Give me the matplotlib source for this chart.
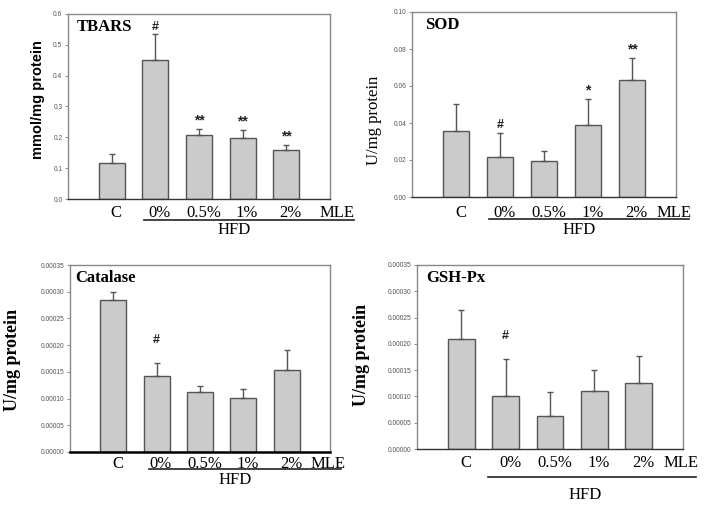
import matplotlib
matplotlib.use("Agg")
import matplotlib.pyplot as plt
import matplotlib.transforms as mtransforms

groups = ["C", "0%", "0.5%", "1%", "2%"]

tbars_mean = [0.117, 0.451, 0.207, 0.199, 0.160]
tbars_err = [0.028, 0.084, 0.019, 0.026, 0.016]
tbars_marks = ["", "#", "**", "**", "**"]

sod_mean = [0.0357, 0.0215, 0.0197, 0.0388, 0.0632]
sod_err = [0.0144, 0.0133, 0.0051, 0.0142, 0.0120]
sod_marks = ["", "#", "", "*", "**"]

cat_mean = [0.000284, 0.0001425, 0.0001125, 0.000102, 0.000153]
cat_err = [0.000016, 0.0000245, 0.0000105, 0.000016, 0.000038]
cat_marks = ["", "#", "", "", ""]

gsh_mean = [0.000210, 0.0001015, 0.0000634, 0.000110, 0.000126]
gsh_err = [0.000054, 0.0000695, 0.0000456, 0.000040, 0.000051]
gsh_marks = ["", "#", "", "", ""]

W, H = 704, 507
fig = plt.figure(figsize=(W / 100, H / 100), dpi=100)
fig.patch.set_facecolor("white")

SERIF = ["Liberation Serif", "DejaVu Serif"]
SANS = ["Liberation Sans", "DejaVu Sans"]


def add_ax(x0, y0, x1, y1):
    return fig.add_axes([x0 / W, 1 - y1 / H, (x1 - x0) / W, (y1 - y0) / H])


def panel(ax, mean, err, marks, ylim, yticks, fmt, title, title_x, mark_off,
          lab_y, line_y, hfd_y, line_x, mle_x, bottom_black=False):
    x = list(range(len(groups)))
    ax.bar(x, mean, width=0.6, color="#cbcbcb", edgecolor="#555555", linewidth=1.0, zorder=2)
    ax.errorbar(x, mean, yerr=[[0] * len(err), err], fmt="none", ecolor="#555555",
                elinewidth=1.0, capsize=2.5, capthick=1.0, zorder=3)
    ax.set_xlim(-1, 5)
    ax.set_ylim(*ylim)
    ax.set_yticks(yticks)
    ax.set_yticklabels([fmt.format(v) for v in yticks], fontsize=4.8, color="#555555",
                       family=SANS)
    ax.tick_params(axis="y", length=2, width=0.6, color="#777777", pad=2)
    ax.set_xticks([])
    for s in ax.spines.values():
        s.set_color("#888888")
        s.set_linewidth(1.0)
    ax.spines["bottom"].set_color("#333333")
    if bottom_black:
        ax.spines["bottom"].set_linewidth(1.8)
        ax.spines["bottom"].set_color("black")
    ax.text(title_x, 0.93, title, transform=ax.transAxes, fontsize=12, fontweight="bold",
            family=SERIF, va="center", ha="left")
    for xi, m, e, mk in zip(x, mean, err, marks):
        if mk:
            ax.annotate(mk, (xi, m + e), xytext=(0, mark_off), textcoords="offset points",
                        ha="center", va="bottom", fontsize=9 if mk == "#" else 10,
                        fontweight="bold", family=SANS, color="#222222")
    tr = mtransforms.blended_transform_factory(ax.transData, ax.transAxes)
    for xi, g in zip(x, groups):
        ax.text(xi + 0.1, lab_y, g, transform=tr, ha="center", va="center", fontsize=12,
                family=SERIF, clip_on=False)
    ax.text(mle_x, lab_y, "MLE", transform=tr, ha="left", va="center", fontsize=12,
            family=SERIF, clip_on=False)
    ax.plot(line_x, [line_y, line_y], transform=tr, color="#222222", lw=1.2, clip_on=False)
    ax.text(2.8, hfd_y, "HFD", transform=tr, ha="center", va="center", fontsize=12,
            family=SERIF, clip_on=False)


ax1 = add_ax(68, 14, 330, 199)
panel(ax1, tbars_mean, tbars_err, tbars_marks, (0, 0.6), [0, 0.1, 0.2, 0.3, 0.4, 0.5, 0.6],
      "{:.1f}", "TBARS", 0.035, 1, -0.075, -0.115, -0.165, [0.73, 5.55], 4.75)
fig.text(38 / W, 1 - 100 / H, "mmol/mg protein", rotation=90, ha="center", va="center",
         fontsize=10.5, fontweight="bold", family=SANS)

ax2 = add_ax(412, 12, 676, 197)
panel(ax2, sod_mean, sod_err, sod_marks, (0, 0.10), [0, 0.02, 0.04, 0.06, 0.08, 0.10],
      "{:.2f}", "SOD", 0.05, 1, -0.085, -0.12, -0.18, [0.75, 5.3], 4.55)
fig.text(374 / W, 1 - 120 / H, "U/mg protein", rotation=90, ha="center", va="center",
         fontsize=12, family=SERIF)

cat_ticks = [0, 0.00005, 0.0001, 0.00015, 0.0002, 0.00025, 0.0003, 0.00035]
ax3 = add_ax(70, 265, 330, 452)
panel(ax3, cat_mean, cat_err, cat_marks, (0, 0.00035), cat_ticks,
      "{:.5f}", "Catalase", 0.02, 12, -0.065, -0.09, -0.15, [0.82, 5.25], 4.55,
      bottom_black=True)
fig.text(13 / W, 1 - 360 / H, "U/mg protein", rotation=90, ha="center", va="center",
         fontsize=13, fontweight="bold", family=SERIF)

ax4 = add_ax(417, 265, 683, 449)
panel(ax4, gsh_mean, gsh_err, gsh_marks, (0, 0.00035), cat_ticks,
      "{:.5f}", "GSH-Px", 0.035, 12, -0.075, -0.15, -0.25, [0.6, 5.3], 4.55)
fig.text(362 / W, 1 - 355 / H, "U/mg protein", rotation=90, ha="center", va="center",
         fontsize=13, fontweight="bold", family=SERIF)

fig.savefig("out.png", dpi=100)
